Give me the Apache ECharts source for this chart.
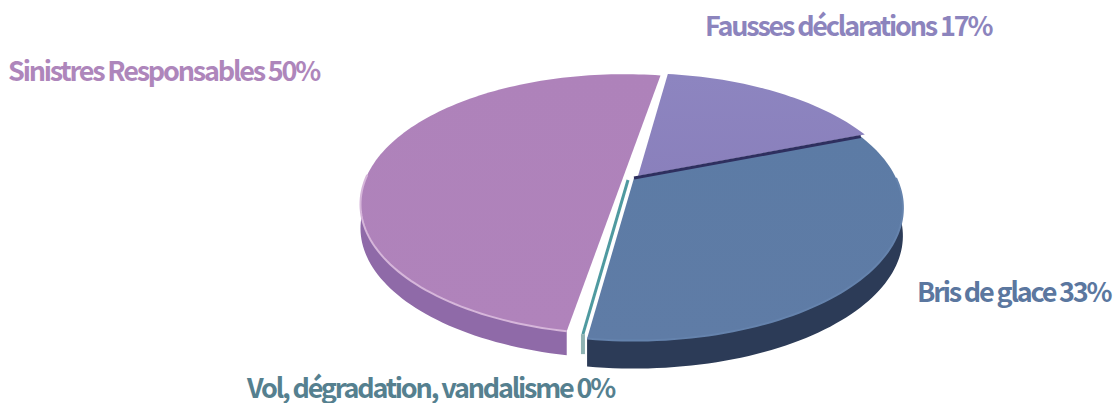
<!DOCTYPE html>
<html>
<head>
<meta charset="utf-8">
<style>
  html, body { margin: 0; padding: 0; background: #fff; }
  #chart { width: 1117px; height: 403px; }
  #chart text { letter-spacing: -2.2px; }
</style>
<script src="https://cdn.jsdelivr.net/npm/echarts@6/dist/echarts.min.js"></script>
</head>
<body>
<div id="chart"></div>
<script>
// clockwise from the top of the pie
const categories = ["Fausses déclarations", "Bris de glace", "Vol, dégradation, vandalisme", "Sinistres Responsables"];
const values = [17, 33, 0, 50];

const START_ANGLE = 8;
const TILT = 0.225; // perspective, near side looks bigger

// look of each slice, same order as categories
const looks = [
  { apex: [638, 176], scale: 1, twist: 0, depth: 0, top: "#8d85c0", bottom: "#8a80bc", wall: "#6f66a0", text: "#8c84bd", labelPos: [705, 24] },
  { apex: [634, 178], scale: 1, twist: 0, depth: 28, top: "#5c7ba5", bottom: "#5f7ca6", wall: "#2c3b57", text: "#5b779f", labelPos: [917, 290], edge: "#2e2f5f", rim: "#6583ad" },
  { apex: [628, 180], scale: 0.96, twist: 0, depth: 20, top: "#4f9aa0", bottom: "#4f9aa0", wall: "#8fb3b3", text: "#55808f", labelPos: [247, 386] },
  { apex: [624, 175], scale: 0.98, twist: 2, depth: 24, top: "#ae82ba", bottom: "#b083bb", wall: "#8f6aa8", text: "#ae86bb", labelPos: [8, 69], rim: "#d6b6da" }
];

function project(look, deg) {
  const t = deg * Math.PI / 180;
  const u = Math.sin(t), v = -Math.cos(t);
  const w = 1 - TILT * v;
  return [
    look.apex[0] + look.scale * 262 * u / w,
    look.apex[1] + look.scale * 126 * v / w
  ];
}

function arc(look, from, to) {
  const pts = [];
  const n = Math.max(1, Math.ceil(Math.abs(to - from) / 1.5));
  for (let i = 0; i <= n; i++) pts.push(project(look, from + (to - from) * i / n));
  return pts;
}

const total = values.reduce((a, b) => a + b, 0);

function renderItem(params, api) {
  const i = params.dataIndex;
  const look = looks[i];
  let before = 0;
  for (let k = 0; k < i; k++) before += values[k];
  const from = START_ANGLE + look.twist + before / total * 360;
  const to = from + api.value(0) / total * 360;
  const children = [];

  // side wall, only on the near half
  const wallFrom = Math.max(from, 90), wallTo = Math.min(to, 270);
  if (look.depth && wallTo > wallFrom) {
    const rim = arc(look, wallFrom, wallTo);
    const low = rim.map(p => [p[0], p[1] + look.depth]).reverse();
    children.push({ type: "polygon", shape: { points: rim.concat(low) }, style: { fill: look.wall } });
  }

  if (to > from) {
    children.push({
      type: "polygon",
      shape: { points: [look.apex].concat(arc(look, from, to)) },
      style: {
        fill: new echarts.graphic.LinearGradient(0, 0, 0, 1, [
          { offset: 0, color: look.top },
          { offset: 1, color: look.bottom }
        ])
      }
    });
    if (look.rim) {
      children.push({
        type: "polyline",
        shape: { points: arc(look, wallFrom, wallTo) },
        style: { fill: null, stroke: look.rim, lineWidth: 2 }
      });
    }
    if (look.edge) {
      children.push({
        type: "polyline",
        shape: { points: [look.apex, project(look, from)] },
        style: { fill: null, stroke: look.edge, lineWidth: 3 }
      });
    }
  } else {
    // empty slice, just a sliver in the gap
    const end = project(look, from);
    children.push({
      type: "polyline",
      shape: { points: [look.apex, end] },
      style: { fill: null, stroke: look.top, lineWidth: 3 }
    });
    children.push({
      type: "polyline",
      shape: { points: [end, [end[0], end[1] + look.depth]] },
      style: { fill: null, stroke: look.wall, lineWidth: 4 }
    });
  }

  children.push({
    type: "text",
    x: look.labelPos[0],
    y: look.labelPos[1],
    style: {
      text: categories[i] + " " + api.value(0) + "%",
      fill: look.text,
      font: '700 27px "Noto Sans CJK SC"',
      align: "left",
      verticalAlign: "middle"
    }
  });

  return { type: "group", children: children };
}

const chart = echarts.init(document.getElementById("chart"), null, { renderer: "svg" });
chart.setOption({
  animation: false,
  backgroundColor: "#fff",
  series: [{
    type: "custom",
    coordinateSystem: "none",
    renderItem: renderItem,
    data: values.map(v => [v]),
    silent: true
  }]
});
</script>
</body>
</html>
